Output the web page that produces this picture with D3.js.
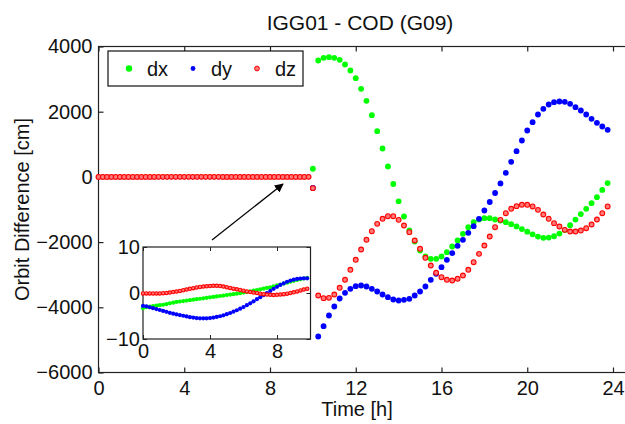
<!DOCTYPE html>
<html><head><meta charset="utf-8">
<script src="https://cdn.jsdelivr.net/npm/d3@7"></script>
<style>
body{margin:0;background:#fff}
text{font-family:"Liberation Sans",Arial,Helvetica,sans-serif;fill:#111}
</style>
</head><body>
<svg id="c" width="625" height="424"></svg>
<script>
// ---------- DATA ----------
const title = "IGG01 - COD (G09)";
const xLabel = "Time [h]";
const yLabel = "Orbit Difference [cm]";
const seriesNames = ["dx","dy","dz"];
const seriesColors = ["#00ff00","#0000ff","#ff0000"];
const xTicks = [0,4,8,12,16,20,24];
const yTicks = [-6000,-4000,-2000,0,2000,4000];
const insetXTicks = [0,4,8];
const insetYTicks = [-10,0,10];

// first 10 hours (cm), also shown in the inset
const insetT = [0,0.2,0.4,0.6,0.8,1.0,1.2,1.4,1.6,1.8,2.0,2.2,2.4,2.6,2.8,3.0,3.2,3.4,3.6,3.8,
  4.0,4.2,4.4,4.6,4.8,5.0,5.2,5.4,5.6,5.8,6.0,6.2,6.4,6.6,6.8,7.0,7.2,7.4,7.6,7.8,
  8.0,8.2,8.4,8.6,8.8,9.0,9.2,9.4,9.6,9.8];
const insetDx = [-3.3,-3.1,-2.95,-2.85,-2.75,-2.65,-2.55,-2.4,-2.25,-2.1,-1.95,-1.85,-1.75,-1.65,-1.55,-1.45,-1.35,-1.25,-1.15,-1.05,
  -0.95,-0.85,-0.75,-0.65,-0.55,-0.45,-0.35,-0.25,-0.15,-0.05,0.1,0.2,0.35,0.5,0.65,0.8,0.95,1.1,1.25,1.45,
  1.65,1.85,2.05,2.25,2.45,2.65,2.85,3.0,3.15,3.3];
const insetDy = [-2.8,-2.9,-3.1,-3.3,-3.5,-3.7,-3.9,-4.1,-4.3,-4.5,-4.65,-4.8,-4.95,-5.1,-5.25,-5.35,-5.45,-5.5,-5.5,-5.5,
  -5.45,-5.35,-5.2,-5.05,-4.85,-4.6,-4.35,-4.05,-3.75,-3.4,-3.05,-2.65,-2.25,-1.8,-1.35,-0.9,-0.45,0.0,0.45,0.9,
  1.35,1.75,2.1,2.45,2.7,2.9,3.05,3.15,3.2,3.2];
const insetDz = [-0.1,-0.1,-0.1,-0.1,-0.1,-0.1,-0.05,0.0,0.1,0.2,0.3,0.45,0.6,0.75,0.9,1.05,1.2,1.3,1.4,1.45,
  1.5,1.55,1.55,1.5,1.4,1.25,1.1,0.95,0.8,0.65,0.5,0.35,0.2,0.1,0.0,-0.15,-0.25,-0.35,-0.4,-0.45,
  -0.4,-0.35,-0.25,-0.15,0.0,0.15,0.35,0.55,0.75,0.95];

// after 10 h (cm)
const mainT = [10.0,10.25,10.5,10.75,11.0,11.25,11.5,11.75,12.0,12.25,12.5,12.75,13.0,13.25,13.5,13.75,
  14.0,14.25,14.5,14.75,15.0,15.25,15.5,15.75,16.0,16.25,16.5,16.75,17.0,17.25,17.5,17.75,
  18.0,18.25,18.5,18.75,19.0,19.25,19.5,19.75,20.0,20.25,20.5,20.75,21.0,21.25,21.5,21.75,
  22.0,22.25,22.5,22.75,23.0,23.25,23.5,23.75];
const mainDx = [250,3571,3653,3672,3653,3592,3448,3264,3028,2702,2334,1893,1402,871,319,-218,
  -750,-1215,-1644,-1982,-2258,-2442,-2512,-2512,-2442,-2310,-2135,-1951,-1745,-1543,-1390,-1307,
  -1266,-1266,-1307,-1340,-1389,-1450,-1520,-1600,-1680,-1760,-1830,-1869,-1860,-1820,-1740,-1630,
  -1480,-1310,-1140,-980,-806,-622,-400,-190];
const mainDy = [-340,-4896,-4580,-4252,-3975,-3730,-3555,-3433,-3353,-3331,-3362,-3433,-3515,-3607,-3689,-3761,
  -3791,-3770,-3740,-3638,-3515,-3362,-3157,-2973,-2769,-2543,-2340,-2115,-1930,-1715,-1512,-1286,
  -1030,-770,-494,-200,126,463,788,1117,1423,1678,1914,2089,2221,2291,2313,2303,
  2242,2138,2037,1914,1782,1660,1546,1445];
const mainDz = [-345,-3638,-3720,-3710,-3607,-3402,-3157,-2850,-2543,-2227,-1930,-1666,-1440,-1286,-1205,-1205,
  -1317,-1491,-1695,-1951,-2206,-2482,-2718,-2942,-3077,-3157,-3178,-3126,-3025,-2850,-2617,-2360,
  -2104,-1828,-1543,-1317,-1113,-979,-897,-856,-856,-907,-1010,-1153,-1286,-1419,-1522,-1624,
  -1675,-1675,-1645,-1573,-1460,-1307,-1113,-907];

// ---------- DRAW ----------
const svg = d3.select("#c");
const L = 98.5, T = 46.5, B = 372.5, Rframe = 627;
const x = d3.scaleLinear().domain([0,24]).range([L,613]);
const y = d3.scaleLinear().domain([-6000,4000]).range([B,T]);
const axisColor = "#222";
const fs = 20;

// title
svg.append("text").attr("x",360).attr("y",30).attr("text-anchor","middle")
  .style("font-size","21px").text(title);

// frame
svg.append("rect").attr("x",L).attr("y",T).attr("width",Rframe-L).attr("height",B-T)
  .attr("fill","none").attr("stroke",axisColor).attr("stroke-width",1.2);

// axes
const gx = svg.append("g").attr("transform",`translate(0,${B})`)
  .call(d3.axisBottom(x).tickValues(xTicks).tickSize(-5).tickPadding(8).tickFormat(d3.format("d")));
const gxTop = svg.append("g").attr("transform",`translate(0,${T})`)
  .call(d3.axisTop(x).tickValues(xTicks).tickSize(-5).tickFormat(""));
const gy = svg.append("g").attr("transform",`translate(${L},0)`)
  .call(d3.axisLeft(y).tickValues(yTicks).tickSize(-5).tickPadding(6).tickFormat(d3.format("d")));
[gx,gxTop,gy].forEach(g=>{
  g.select(".domain").remove();
  g.selectAll(".tick line").attr("stroke",axisColor).attr("stroke-width",1.2);
  g.selectAll("text").style("font-size",fs+"px").attr("fill","#111")
   .style("font-family",'"Liberation Sans",Arial,sans-serif');
});

// axis labels
svg.append("text").attr("x",357).attr("y",416).attr("text-anchor","middle")
  .style("font-size",fs+"px").text(xLabel);
svg.append("text").attr("transform",`translate(29,${(T+B)/2}) rotate(-90)`).attr("text-anchor","middle")
  .style("font-size",fs+"px").text(yLabel);

// main data
const mainSeries = [mainDx, mainDy, mainDz];
const insetSeries = [insetDx, insetDy, insetDz];
function drawDots(g, ts, vs, xs, ys, i, r){
  const sel = g.selectAll(null).data(ts.map((t,k)=>[t,vs[k]])).enter().append("circle")
    .attr("cx",d=>xs(d[0])).attr("cy",d=>ys(d[1])).attr("r",r);
  if(i===2){ sel.attr("fill","#ff7a7a").attr("stroke","#ff0000").attr("stroke-width",1.1); }
  else { sel.attr("fill",seriesColors[i]); }
}
const gm = svg.append("g");
for(let i=0;i<3;i++){
  drawDots(gm, insetT, insetSeries[i], x, y, i, 2.4);
  drawDots(gm, mainT, mainSeries[i], x, y, i, i===2?2.4:2.9);
}

// arrow
svg.append("defs").append("marker").attr("id","ah").attr("viewBox","0 0 10 10")
  .attr("refX",9).attr("refY",5).attr("markerWidth",9).attr("markerHeight",9)
  .attr("markerUnits","userSpaceOnUse").attr("orient","auto")
  .append("path").attr("d","M0,0 L10,5 L0,10 Z").attr("fill","#000");
svg.append("line").attr("x1",212).attr("y1",240).attr("x2",283).attr("y2",184)
  .attr("stroke","#000").attr("stroke-width",1.3).attr("marker-end","url(#ah)");

// inset
const iL = 143, iR = 310.5, iT = 247, iB = 339;
const xi = d3.scaleLinear().domain([0,10]).range([iL,iR]);
const yi = d3.scaleLinear().domain([-10,10]).range([iB,iT]);
svg.append("rect").attr("x",iL).attr("y",iT).attr("width",iR-iL).attr("height",iB-iT)
  .attr("fill","#fff").attr("stroke",axisColor).attr("stroke-width",1.2);
const gix = svg.append("g").attr("transform",`translate(0,${iB})`)
  .call(d3.axisBottom(xi).tickValues(insetXTicks).tickSize(-4).tickPadding(5));
const gixT = svg.append("g").attr("transform",`translate(0,${iT})`)
  .call(d3.axisTop(xi).tickValues(insetXTicks).tickSize(-4).tickFormat(""));
const giy = svg.append("g").attr("transform",`translate(${iL},0)`)
  .call(d3.axisLeft(yi).tickValues(insetYTicks).tickSize(-4).tickPadding(3));
const giyR = svg.append("g").attr("transform",`translate(${iR},0)`)
  .call(d3.axisRight(yi).tickValues(insetYTicks).tickSize(-4).tickFormat(""));
[gix,gixT,giy,giyR].forEach(g=>{
  g.select(".domain").remove();
  g.selectAll(".tick line").attr("stroke",axisColor).attr("stroke-width",1);
  g.selectAll("text").style("font-size",fs+"px").attr("fill","#111")
   .style("font-family",'"Liberation Sans",Arial,sans-serif');
});
const gi = svg.append("g");
for(let i=0;i<3;i++){
  drawDots(gi, insetT, insetSeries[i], xi, yi, i, i===2?1.7:2.1);
}

// legend
const lg = svg.append("g");
lg.append("rect").attr("x",108).attr("y",51).attr("width",195).attr("height",35)
  .attr("fill","#fff").attr("stroke","#111").attr("stroke-width",1.2);
const legX = [129,193,257];
seriesNames.forEach((n,i)=>{
  const c = lg.append("circle").attr("cx",legX[i]).attr("cy",68.5).attr("r",i===0?3.2:2.4);
  if(i===2) c.attr("fill","#ff7a7a").attr("stroke","#ff0000").attr("stroke-width",1);
  else c.attr("fill",seriesColors[i]);
  lg.append("text").attr("x",legX[i]+18).attr("y",75.5).style("font-size",fs+"px").text(n);
});
</script>
</body></html>
